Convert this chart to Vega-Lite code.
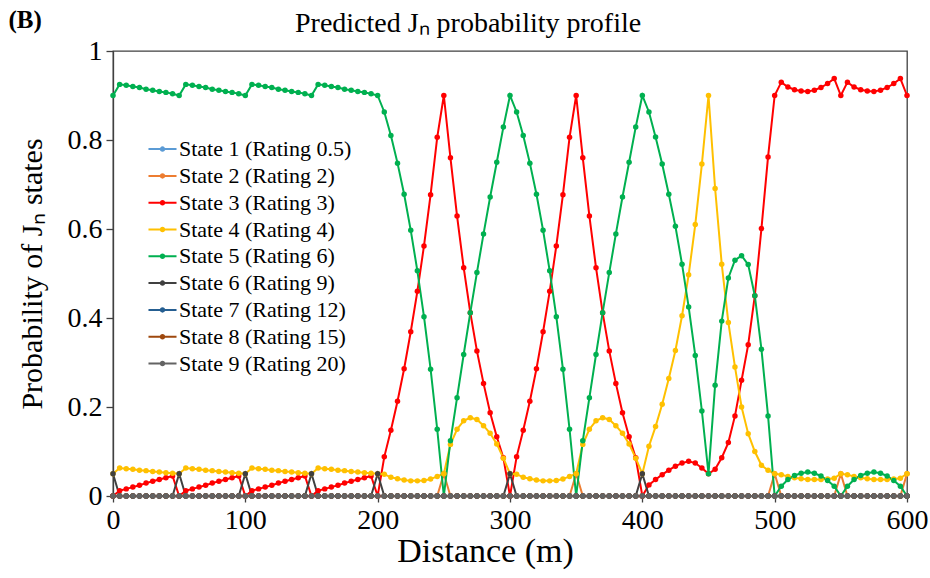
{
"$schema": "https://vega.github.io/schema/vega-lite/v6.json",
"width": 794, "height": 445,
"autosize": "none",
"padding": {"left": 113, "top": 51, "right": 23, "bottom": 82},
"background": "white",
"config": {"font": "Liberation Serif", "view": {"stroke": "#404040", "strokeWidth": 1.3}},
"datasets": {
"names": [
{"key": "s1", "name": "State 1 (Rating 0.5)"},
{"key": "s2", "name": "State 2 (Rating 2)"},
{"key": "s3", "name": "State 3 (Rating 3)"},
{"key": "s4", "name": "State 4 (Rating 4)"},
{"key": "s5", "name": "State 5 (Rating 6)"},
{"key": "s6", "name": "State 6 (Rating 9)"},
{"key": "s7", "name": "State 7 (Rating 12)"},
{"key": "s8", "name": "State 8 (Rating 15)"},
{"key": "s9", "name": "State 9 (Rating 20)"}
],
"probs": [
{"d":0,"s1":0,"s2":0,"s3":0,"s4":0.05,"s5":0.9,"s6":0.05,"s7":0,"s8":0,"s9":0},
{"d":5,"s1":0,"s2":0,"s3":0.012,"s4":0.063,"s5":0.925,"s6":0,"s7":0,"s8":0,"s9":0},
{"d":10,"s1":0,"s2":0,"s3":0.016,"s4":0.061,"s5":0.923,"s6":0,"s7":0,"s8":0,"s9":0},
{"d":15,"s1":0,"s2":0,"s3":0.02,"s4":0.06,"s5":0.92,"s6":0,"s7":0,"s8":0,"s9":0},
{"d":20,"s1":0,"s2":0,"s3":0.024,"s4":0.058,"s5":0.918,"s6":0,"s7":0,"s8":0,"s9":0},
{"d":25,"s1":0,"s2":0,"s3":0.029,"s4":0.057,"s5":0.914,"s6":0,"s7":0,"s8":0,"s9":0},
{"d":30,"s1":0,"s2":0,"s3":0.033,"s4":0.055,"s5":0.912,"s6":0,"s7":0,"s8":0,"s9":0},
{"d":35,"s1":0,"s2":0,"s3":0.037,"s4":0.054,"s5":0.909,"s6":0,"s7":0,"s8":0,"s9":0},
{"d":40,"s1":0,"s2":0,"s3":0.041,"s4":0.052,"s5":0.907,"s6":0,"s7":0,"s8":0,"s9":0},
{"d":45,"s1":0,"s2":0,"s3":0.045,"s4":0.051,"s5":0.904,"s6":0,"s7":0,"s8":0,"s9":0},
{"d":50,"s1":0,"s2":0,"s3":0,"s4":0.05,"s5":0.9,"s6":0.05,"s7":0,"s8":0,"s9":0},
{"d":55,"s1":0,"s2":0,"s3":0.012,"s4":0.063,"s5":0.925,"s6":0,"s7":0,"s8":0,"s9":0},
{"d":60,"s1":0,"s2":0,"s3":0.016,"s4":0.061,"s5":0.923,"s6":0,"s7":0,"s8":0,"s9":0},
{"d":65,"s1":0,"s2":0,"s3":0.02,"s4":0.06,"s5":0.92,"s6":0,"s7":0,"s8":0,"s9":0},
{"d":70,"s1":0,"s2":0,"s3":0.024,"s4":0.058,"s5":0.918,"s6":0,"s7":0,"s8":0,"s9":0},
{"d":75,"s1":0,"s2":0,"s3":0.029,"s4":0.057,"s5":0.914,"s6":0,"s7":0,"s8":0,"s9":0},
{"d":80,"s1":0,"s2":0,"s3":0.033,"s4":0.055,"s5":0.912,"s6":0,"s7":0,"s8":0,"s9":0},
{"d":85,"s1":0,"s2":0,"s3":0.037,"s4":0.054,"s5":0.909,"s6":0,"s7":0,"s8":0,"s9":0},
{"d":90,"s1":0,"s2":0,"s3":0.041,"s4":0.052,"s5":0.907,"s6":0,"s7":0,"s8":0,"s9":0},
{"d":95,"s1":0,"s2":0,"s3":0.045,"s4":0.051,"s5":0.904,"s6":0,"s7":0,"s8":0,"s9":0},
{"d":100,"s1":0,"s2":0,"s3":0,"s4":0.05,"s5":0.9,"s6":0.05,"s7":0,"s8":0,"s9":0},
{"d":105,"s1":0,"s2":0,"s3":0.012,"s4":0.063,"s5":0.925,"s6":0,"s7":0,"s8":0,"s9":0},
{"d":110,"s1":0,"s2":0,"s3":0.016,"s4":0.061,"s5":0.923,"s6":0,"s7":0,"s8":0,"s9":0},
{"d":115,"s1":0,"s2":0,"s3":0.02,"s4":0.06,"s5":0.92,"s6":0,"s7":0,"s8":0,"s9":0},
{"d":120,"s1":0,"s2":0,"s3":0.024,"s4":0.058,"s5":0.918,"s6":0,"s7":0,"s8":0,"s9":0},
{"d":125,"s1":0,"s2":0,"s3":0.029,"s4":0.057,"s5":0.914,"s6":0,"s7":0,"s8":0,"s9":0},
{"d":130,"s1":0,"s2":0,"s3":0.033,"s4":0.055,"s5":0.912,"s6":0,"s7":0,"s8":0,"s9":0},
{"d":135,"s1":0,"s2":0,"s3":0.037,"s4":0.054,"s5":0.909,"s6":0,"s7":0,"s8":0,"s9":0},
{"d":140,"s1":0,"s2":0,"s3":0.041,"s4":0.052,"s5":0.907,"s6":0,"s7":0,"s8":0,"s9":0},
{"d":145,"s1":0,"s2":0,"s3":0.045,"s4":0.051,"s5":0.904,"s6":0,"s7":0,"s8":0,"s9":0},
{"d":150,"s1":0,"s2":0,"s3":0,"s4":0.05,"s5":0.9,"s6":0.05,"s7":0,"s8":0,"s9":0},
{"d":155,"s1":0,"s2":0,"s3":0.012,"s4":0.063,"s5":0.925,"s6":0,"s7":0,"s8":0,"s9":0},
{"d":160,"s1":0,"s2":0,"s3":0.016,"s4":0.061,"s5":0.923,"s6":0,"s7":0,"s8":0,"s9":0},
{"d":165,"s1":0,"s2":0,"s3":0.02,"s4":0.06,"s5":0.92,"s6":0,"s7":0,"s8":0,"s9":0},
{"d":170,"s1":0,"s2":0,"s3":0.024,"s4":0.058,"s5":0.918,"s6":0,"s7":0,"s8":0,"s9":0},
{"d":175,"s1":0,"s2":0,"s3":0.029,"s4":0.057,"s5":0.914,"s6":0,"s7":0,"s8":0,"s9":0},
{"d":180,"s1":0,"s2":0,"s3":0.033,"s4":0.055,"s5":0.912,"s6":0,"s7":0,"s8":0,"s9":0},
{"d":185,"s1":0,"s2":0,"s3":0.037,"s4":0.054,"s5":0.909,"s6":0,"s7":0,"s8":0,"s9":0},
{"d":190,"s1":0,"s2":0,"s3":0.041,"s4":0.052,"s5":0.907,"s6":0,"s7":0,"s8":0,"s9":0},
{"d":195,"s1":0,"s2":0,"s3":0.045,"s4":0.051,"s5":0.904,"s6":0,"s7":0,"s8":0,"s9":0},
{"d":200,"s1":0,"s2":0,"s3":0,"s4":0.05,"s5":0.9,"s6":0.05,"s7":0,"s8":0,"s9":0},
{"d":205,"s1":0,"s2":0,"s3":0.088,"s4":0.049,"s5":0.863,"s6":0,"s7":0,"s8":0,"s9":0},
{"d":210,"s1":0,"s2":0,"s3":0.148,"s4":0.042,"s5":0.81,"s6":0,"s7":0,"s8":0,"s9":0},
{"d":215,"s1":0,"s2":0,"s3":0.213,"s4":0.039,"s5":0.748,"s6":0,"s7":0,"s8":0,"s9":0},
{"d":220,"s1":0,"s2":0,"s3":0.286,"s4":0.036,"s5":0.678,"s6":0,"s7":0,"s8":0,"s9":0},
{"d":225,"s1":0,"s2":0,"s3":0.369,"s4":0.034,"s5":0.597,"s6":0,"s7":0,"s8":0,"s9":0},
{"d":230,"s1":0,"s2":0,"s3":0.46,"s4":0.034,"s5":0.506,"s6":0,"s7":0,"s8":0,"s9":0},
{"d":235,"s1":0,"s2":0,"s3":0.562,"s4":0.035,"s5":0.403,"s6":0,"s7":0,"s8":0,"s9":0},
{"d":240,"s1":0,"s2":0,"s3":0.677,"s4":0.038,"s5":0.285,"s6":0,"s7":0,"s8":0,"s9":0},
{"d":245,"s1":0,"s2":0,"s3":0.806,"s4":0.044,"s5":0.15,"s6":0,"s7":0,"s8":0,"s9":0},
{"d":250,"s1":0,"s2":0.05,"s3":0.9,"s4":0.05,"s5":0,"s6":0,"s7":0,"s8":0,"s9":0},
{"d":255,"s1":0,"s2":0,"s3":0.76,"s4":0.116,"s5":0.124,"s6":0,"s7":0,"s8":0,"s9":0},
{"d":260,"s1":0,"s2":0,"s3":0.629,"s4":0.15,"s5":0.221,"s6":0,"s7":0,"s8":0,"s9":0},
{"d":265,"s1":0,"s2":0,"s3":0.513,"s4":0.169,"s5":0.318,"s6":0,"s7":0,"s8":0,"s9":0},
{"d":270,"s1":0,"s2":0,"s3":0.412,"s4":0.176,"s5":0.412,"s6":0,"s7":0,"s8":0,"s9":0},
{"d":275,"s1":0,"s2":0,"s3":0.326,"s4":0.172,"s5":0.502,"s6":0,"s7":0,"s8":0,"s9":0},
{"d":280,"s1":0,"s2":0,"s3":0.253,"s4":0.158,"s5":0.589,"s6":0,"s7":0,"s8":0,"s9":0},
{"d":285,"s1":0,"s2":0,"s3":0.187,"s4":0.141,"s5":0.672,"s6":0,"s7":0,"s8":0,"s9":0},
{"d":290,"s1":0,"s2":0,"s3":0.133,"s4":0.117,"s5":0.75,"s6":0,"s7":0,"s8":0,"s9":0},
{"d":295,"s1":0,"s2":0,"s3":0.086,"s4":0.085,"s5":0.829,"s6":0,"s7":0,"s8":0,"s9":0},
{"d":300,"s1":0,"s2":0,"s3":0,"s4":0.05,"s5":0.9,"s6":0.05,"s7":0,"s8":0,"s9":0},
{"d":305,"s1":0,"s2":0,"s3":0.088,"s4":0.049,"s5":0.863,"s6":0,"s7":0,"s8":0,"s9":0},
{"d":310,"s1":0,"s2":0,"s3":0.148,"s4":0.042,"s5":0.81,"s6":0,"s7":0,"s8":0,"s9":0},
{"d":315,"s1":0,"s2":0,"s3":0.213,"s4":0.039,"s5":0.748,"s6":0,"s7":0,"s8":0,"s9":0},
{"d":320,"s1":0,"s2":0,"s3":0.286,"s4":0.036,"s5":0.678,"s6":0,"s7":0,"s8":0,"s9":0},
{"d":325,"s1":0,"s2":0,"s3":0.369,"s4":0.034,"s5":0.597,"s6":0,"s7":0,"s8":0,"s9":0},
{"d":330,"s1":0,"s2":0,"s3":0.46,"s4":0.034,"s5":0.506,"s6":0,"s7":0,"s8":0,"s9":0},
{"d":335,"s1":0,"s2":0,"s3":0.562,"s4":0.035,"s5":0.403,"s6":0,"s7":0,"s8":0,"s9":0},
{"d":340,"s1":0,"s2":0,"s3":0.677,"s4":0.038,"s5":0.285,"s6":0,"s7":0,"s8":0,"s9":0},
{"d":345,"s1":0,"s2":0,"s3":0.806,"s4":0.044,"s5":0.15,"s6":0,"s7":0,"s8":0,"s9":0},
{"d":350,"s1":0,"s2":0.05,"s3":0.9,"s4":0.05,"s5":0,"s6":0,"s7":0,"s8":0,"s9":0},
{"d":355,"s1":0,"s2":0,"s3":0.76,"s4":0.116,"s5":0.124,"s6":0,"s7":0,"s8":0,"s9":0},
{"d":360,"s1":0,"s2":0,"s3":0.629,"s4":0.15,"s5":0.221,"s6":0,"s7":0,"s8":0,"s9":0},
{"d":365,"s1":0,"s2":0,"s3":0.513,"s4":0.169,"s5":0.318,"s6":0,"s7":0,"s8":0,"s9":0},
{"d":370,"s1":0,"s2":0,"s3":0.412,"s4":0.176,"s5":0.412,"s6":0,"s7":0,"s8":0,"s9":0},
{"d":375,"s1":0,"s2":0,"s3":0.326,"s4":0.172,"s5":0.502,"s6":0,"s7":0,"s8":0,"s9":0},
{"d":380,"s1":0,"s2":0,"s3":0.253,"s4":0.158,"s5":0.589,"s6":0,"s7":0,"s8":0,"s9":0},
{"d":385,"s1":0,"s2":0,"s3":0.187,"s4":0.141,"s5":0.672,"s6":0,"s7":0,"s8":0,"s9":0},
{"d":390,"s1":0,"s2":0,"s3":0.133,"s4":0.117,"s5":0.75,"s6":0,"s7":0,"s8":0,"s9":0},
{"d":395,"s1":0,"s2":0,"s3":0.086,"s4":0.085,"s5":0.829,"s6":0,"s7":0,"s8":0,"s9":0},
{"d":400,"s1":0,"s2":0,"s3":0,"s4":0.05,"s5":0.9,"s6":0.05,"s7":0,"s8":0,"s9":0},
{"d":405,"s1":0,"s2":0,"s3":0.025,"s4":0.112,"s5":0.863,"s6":0,"s7":0,"s8":0,"s9":0},
{"d":410,"s1":0,"s2":0,"s3":0.037,"s4":0.156,"s5":0.807,"s6":0,"s7":0,"s8":0,"s9":0},
{"d":415,"s1":0,"s2":0,"s3":0.048,"s4":0.206,"s5":0.746,"s6":0,"s7":0,"s8":0,"s9":0},
{"d":420,"s1":0,"s2":0,"s3":0.058,"s4":0.264,"s5":0.678,"s6":0,"s7":0,"s8":0,"s9":0},
{"d":425,"s1":0,"s2":0,"s3":0.067,"s4":0.327,"s5":0.606,"s6":0,"s7":0,"s8":0,"s9":0},
{"d":430,"s1":0,"s2":0,"s3":0.074,"s4":0.405,"s5":0.521,"s6":0,"s7":0,"s8":0,"s9":0},
{"d":435,"s1":0,"s2":0,"s3":0.078,"s4":0.497,"s5":0.425,"s6":0,"s7":0,"s8":0,"s9":0},
{"d":440,"s1":0,"s2":0,"s3":0.074,"s4":0.61,"s5":0.316,"s6":0,"s7":0,"s8":0,"s9":0},
{"d":445,"s1":0,"s2":0,"s3":0.063,"s4":0.746,"s5":0.191,"s6":0,"s7":0,"s8":0,"s9":0},
{"d":450,"s1":0,"s2":0,"s3":0.05,"s4":0.9,"s5":0.05,"s6":0,"s7":0,"s8":0,"s9":0},
{"d":455,"s1":0,"s2":0,"s3":0.06,"s4":0.691,"s5":0.249,"s6":0,"s7":0,"s8":0,"s9":0},
{"d":460,"s1":0,"s2":0,"s3":0.086,"s4":0.521,"s5":0.393,"s6":0,"s7":0,"s8":0,"s9":0},
{"d":465,"s1":0,"s2":0,"s3":0.12,"s4":0.39,"s5":0.49,"s6":0,"s7":0,"s8":0,"s9":0},
{"d":470,"s1":0,"s2":0,"s3":0.18,"s4":0.29,"s5":0.53,"s6":0,"s7":0,"s8":0,"s9":0},
{"d":475,"s1":0,"s2":0,"s3":0.26,"s4":0.2,"s5":0.54,"s6":0,"s7":0,"s8":0,"s9":0},
{"d":480,"s1":0,"s2":0,"s3":0.34,"s4":0.14,"s5":0.52,"s6":0,"s7":0,"s8":0,"s9":0},
{"d":485,"s1":0,"s2":0,"s3":0.45,"s4":0.1,"s5":0.45,"s6":0,"s7":0,"s8":0,"s9":0},
{"d":490,"s1":0,"s2":0,"s3":0.601,"s4":0.069,"s5":0.33,"s6":0,"s7":0,"s8":0,"s9":0},
{"d":495,"s1":0,"s2":0,"s3":0.762,"s4":0.058,"s5":0.18,"s6":0,"s7":0,"s8":0,"s9":0},
{"d":500,"s1":0,"s2":0.05,"s3":0.9,"s4":0.05,"s5":0,"s6":0,"s7":0,"s8":0,"s9":0},
{"d":505,"s1":0,"s2":0,"s3":0.93,"s4":0.048,"s5":0.022,"s6":0,"s7":0,"s8":0,"s9":0},
{"d":510,"s1":0,"s2":0,"s3":0.919,"s4":0.044,"s5":0.037,"s6":0,"s7":0,"s8":0,"s9":0},
{"d":515,"s1":0,"s2":0,"s3":0.913,"s4":0.041,"s5":0.046,"s6":0,"s7":0,"s8":0,"s9":0},
{"d":520,"s1":0,"s2":0,"s3":0.91,"s4":0.039,"s5":0.051,"s6":0,"s7":0,"s8":0,"s9":0},
{"d":525,"s1":0,"s2":0,"s3":0.909,"s4":0.037,"s5":0.054,"s6":0,"s7":0,"s8":0,"s9":0},
{"d":530,"s1":0,"s2":0,"s3":0.912,"s4":0.037,"s5":0.051,"s6":0,"s7":0,"s8":0,"s9":0},
{"d":535,"s1":0,"s2":0,"s3":0.918,"s4":0.037,"s5":0.045,"s6":0,"s7":0,"s8":0,"s9":0},
{"d":540,"s1":0,"s2":0,"s3":0.927,"s4":0.038,"s5":0.035,"s6":0,"s7":0,"s8":0,"s9":0},
{"d":545,"s1":0,"s2":0,"s3":0.938,"s4":0.04,"s5":0.022,"s6":0,"s7":0,"s8":0,"s9":0},
{"d":550,"s1":0,"s2":0.05,"s3":0.9,"s4":0.05,"s5":0,"s6":0,"s7":0,"s8":0,"s9":0},
{"d":555,"s1":0,"s2":0,"s3":0.93,"s4":0.048,"s5":0.022,"s6":0,"s7":0,"s8":0,"s9":0},
{"d":560,"s1":0,"s2":0,"s3":0.919,"s4":0.044,"s5":0.037,"s6":0,"s7":0,"s8":0,"s9":0},
{"d":565,"s1":0,"s2":0,"s3":0.913,"s4":0.041,"s5":0.046,"s6":0,"s7":0,"s8":0,"s9":0},
{"d":570,"s1":0,"s2":0,"s3":0.91,"s4":0.039,"s5":0.051,"s6":0,"s7":0,"s8":0,"s9":0},
{"d":575,"s1":0,"s2":0,"s3":0.909,"s4":0.037,"s5":0.054,"s6":0,"s7":0,"s8":0,"s9":0},
{"d":580,"s1":0,"s2":0,"s3":0.912,"s4":0.037,"s5":0.051,"s6":0,"s7":0,"s8":0,"s9":0},
{"d":585,"s1":0,"s2":0,"s3":0.918,"s4":0.037,"s5":0.045,"s6":0,"s7":0,"s8":0,"s9":0},
{"d":590,"s1":0,"s2":0,"s3":0.927,"s4":0.038,"s5":0.035,"s6":0,"s7":0,"s8":0,"s9":0},
{"d":595,"s1":0,"s2":0,"s3":0.938,"s4":0.04,"s5":0.022,"s6":0,"s7":0,"s8":0,"s9":0},
{"d":600,"s1":0,"s2":0.05,"s3":0.9,"s4":0.05,"s5":0,"s6":0,"s7":0,"s8":0,"s9":0}
]
},
"layer": [
{
"data": {"name": "probs"},
"transform": [
{"fold": ["s1","s2","s3","s4","s5","s6","s7","s8","s9"], "as": ["key","p"]},
{"lookup": "key", "from": {"data": {"name": "names"}, "key": "key", "fields": ["name"]}}
],
"encoding": {
"x": {"field": "d", "type": "quantitative", "title": "Distance (m)",
"scale": {"domain": [0, 600], "nice": false, "zero": false},
"axis": {"values": [0,100,200,300,400,500,600], "grid": false, "tickSize": 6, "tickColor": "#404040", "domainColor": "#404040", "domainWidth": 1.3, "tickWidth": 1.3, "labelFont": "Liberation Serif", "labelFontSize": 28, "labelColor": "black", "labelPadding": 4, "labelFlush": false, "titleFont": "Liberation Serif", "titleFontSize": 34, "titleFontWeight": "normal", "titleColor": "black", "titlePadding": 0, "titleX": 372}},
"y": {"field": "p", "type": "quantitative", "title": "Probability of Jₙ states",
"scale": {"domain": [0, 1], "nice": false},
"axis": {"values": [0,0.2,0.4,0.6,0.8,1], "format": "~g", "grid": false, "tickSize": 7, "tickColor": "#404040", "domainColor": "#404040", "domainWidth": 1.3, "tickWidth": 1.3, "labelFont": "Liberation Serif", "labelFontSize": 28, "labelColor": "black", "labelPadding": 4, "titleFont": "Liberation Serif", "titleFontSize": 30, "titleFontWeight": "normal", "titleColor": "black", "titlePadding": 20}},
"color": {"field": "name", "type": "nominal",
"scale": {"domain": ["State 1 (Rating 0.5)","State 2 (Rating 2)","State 3 (Rating 3)","State 4 (Rating 4)","State 5 (Rating 6)","State 6 (Rating 9)","State 7 (Rating 12)","State 8 (Rating 15)","State 9 (Rating 20)"],
"range": ["#5B9BD5","#ED7D31","#FF0000","#FFC000","#00B050","#404040","#255E91","#9E480E","#636363"]},
"legend": {"orient": "none", "legendX": 35, "legendY": 83.6, "padding": 0, "title": null, "labelFontSize": 22, "labelFont": "Liberation Serif", "labelColor": "black", "labelLimit": 400, "symbolType": "M-1.05,0H1.05M0.13,0A0.13,0.13,0,1,1,-0.13,0A0.13,0.13,0,1,1,0.13,0", "symbolSize": 713, "symbolStrokeWidth": 2, "rowPadding": 0.8, "labelOffset": 2,
"encode": {"symbols": {"update": {"fill": {"scale": "color", "field": "value"}, "stroke": {"scale": "color", "field": "value"}, "opacity": {"value": 1}}}}}}
},
"layer": [
{"mark": {"type": "line", "strokeWidth": 2}},
{"mark": {"type": "point", "filled": true, "opacity": 1},
"encoding": {"size": {"field": "key", "type": "nominal", "legend": null,
"scale": {"domain": ["s1","s2","s3","s4","s5","s6","s7","s8","s9"],
"range": [30,30,22,22,22,18,30,30,18]}}}}
]
},
{
"data": {"values": [{"t": "(B)"}]},
"mark": {"type": "text", "fontWeight": "bold", "fontSize": 25, "font": "Liberation Serif", "color": "black", "align": "left", "baseline": "alphabetic"},
"encoding": {"x": {"datum": -79, "type": "quantitative"}, "y": {"datum": 1.051, "type": "quantitative"}, "text": {"field": "t"}}
},
{
"data": {"values": [{"t": "Predicted Jₙ probability profile"}]},
"mark": {"type": "text", "fontSize": 28, "font": "Liberation Serif", "color": "black", "align": "center", "baseline": "alphabetic"},
"encoding": {"x": {"datum": 268.3, "type": "quantitative"}, "y": {"datum": 1.042, "type": "quantitative"}, "text": {"field": "t"}}
}
]
}
